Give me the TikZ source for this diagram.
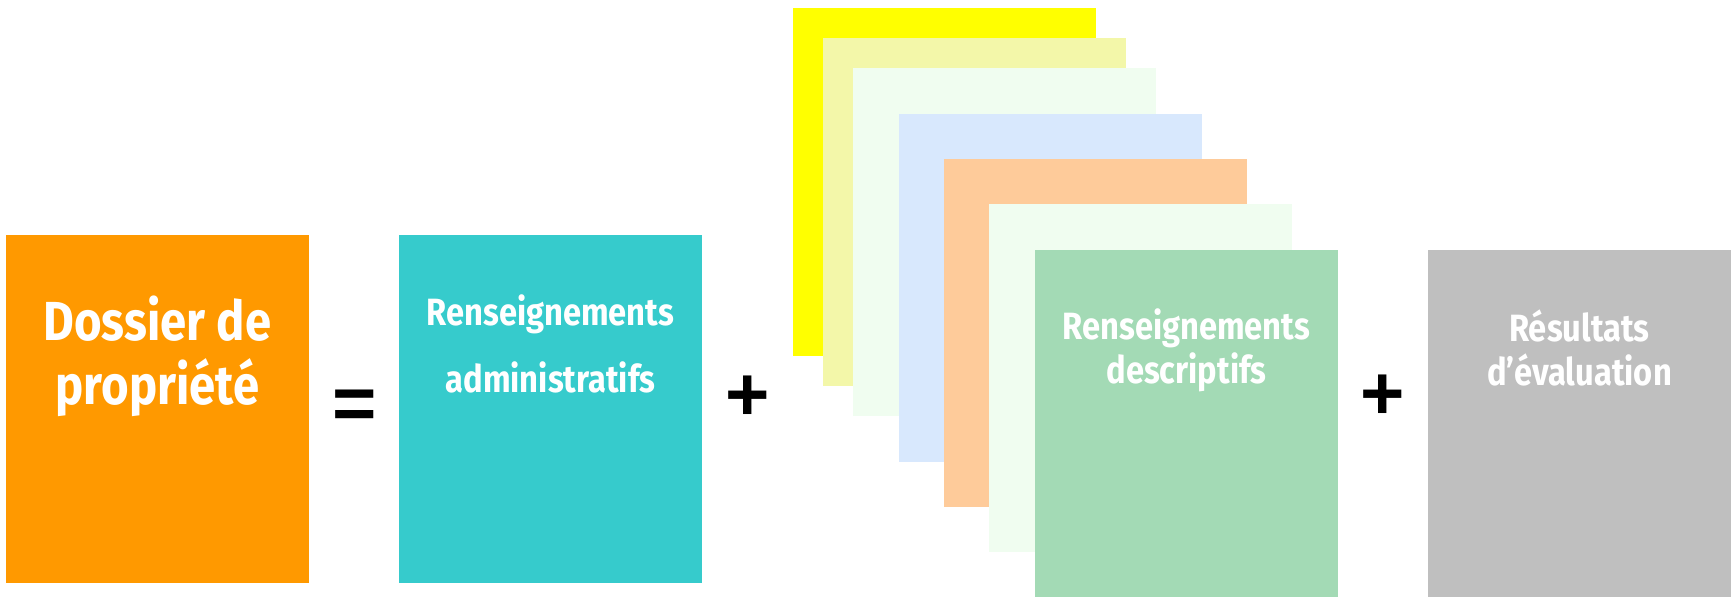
\documentclass[tikz,border=0pt]{standalone}
\usepackage{fontspec}
\usepackage{tikz}

\newfontfamily\boxfont{Fira Sans}[FakeStretch=0.86]
\newfontfamily\signfont{Liberation Sans}

\definecolor{dossierorange}{HTML}{FF9900}
\definecolor{admteal}{HTML}{36CBCC}
\definecolor{sheetyellow}{HTML}{FFFF00}
\definecolor{sheetkhaki}{HTML}{F3F7A9}
\definecolor{sheethoney}{HTML}{F0FDF0}
\definecolor{sheetblue}{HTML}{D8E8FD}
\definecolor{sheetpeach}{HTML}{FECB9A}
\definecolor{descgreen}{HTML}{A3DAB5}
\definecolor{evalgray}{HTML}{BFBFBF}

\tikzset{
  card/.style={anchor=north west, minimum width=151.5pt, minimum height=174pt,
    inner sep=0pt, outer sep=0pt},
  bigtitle/.style={text=white, align=center, anchor=base,
    font=\boxfont\bfseries\fontsize{27.5pt}{32pt}\selectfont},
  smalltitle/.style={text=white, align=center, anchor=base,
    font=\boxfont\bfseries\fontsize{19pt}{22pt}\selectfont},
  sign/.style={inner sep=0pt, anchor=base,
    font=\signfont\bfseries\fontsize{38pt}{38pt}\selectfont}
}

\begin{document}
\begin{tikzpicture}[x=0.5pt,y=-0.5pt]
  \useasboundingbox (0,0) rectangle (1731,597);

  % Left side (text nodes sit on the baseline of their last line)
  \node[card, fill=dossierorange] (dossier) at (6,235) {};
  \node[bigtitle] (dossierT) at (157.5,405) {Dossier de\\propriété};

  \node[sign] (eq) at (355,430) {=};

  \node[card, fill=admteal] (admin) at (399,235) {};
  \node[smalltitle, font=\boxfont\bfseries\fontsize{19pt}{33.5pt}\selectfont]
    (adminT) at (550.5,392.7) {Renseignements\\administratifs};

  \node[sign] (plusA) at (748,421) {+};

  % Stack of sheets, back to front
  \node[card, fill=sheetyellow] (sheetA) at (793,8) {};
  \node[card, fill=sheetkhaki] (sheetB) at (823,38) {};
  \node[card, fill=sheethoney] (sheetC) at (853,68) {};
  \node[card, fill=sheetblue] (sheetD) at (899,114) {};
  \node[card, fill=sheetpeach] (sheetE) at (944,159) {};
  \node[card, fill=sheethoney] (sheetF) at (989,204) {};
  \node[card, fill=descgreen] (desc) at (1035,250) {};
  \node[smalltitle] (descT) at (1186.5,384) {Renseignements\\descriptifs};

  \node[sign] (plusB) at (1383,420) {+};

  % Right side
  \node[card, fill=evalgray] (eval) at (1428,250) {};
  \node[smalltitle] (evalT) at (1579.5,385.7) {Résultats\\d’évaluation};
\end{tikzpicture}
\end{document}
